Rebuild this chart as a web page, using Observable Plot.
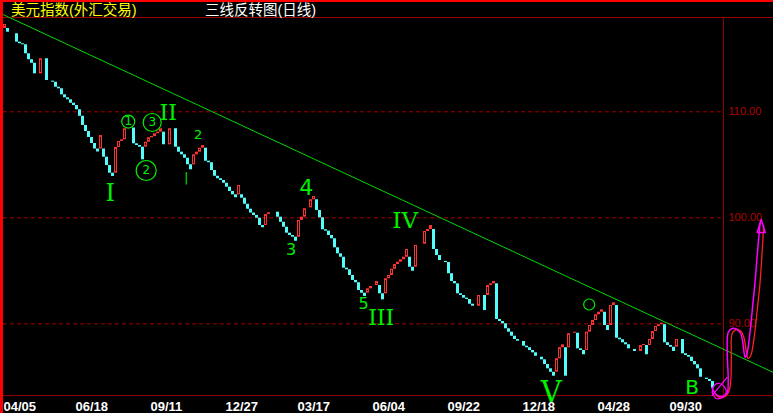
<!DOCTYPE html>
<html><head><meta charset="utf-8">
<script src="https://cdn.jsdelivr.net/npm/d3@7"></script>
<script src="https://cdn.jsdelivr.net/npm/@observablehq/plot@0.6"></script>
<style>
html,body{margin:0;padding:0;background:#000;}
#wrap{position:relative;width:773px;height:413px;overflow:hidden;background:#000;}
#wrap svg{position:absolute;left:0;top:0;overflow:visible;}
.t{position:absolute;top:1px;font-family:"Liberation Sans","Noto Sans CJK SC";font-size:14.5px;line-height:18px;height:18px;white-space:nowrap;}
.bar{position:absolute;background:#ff0000;}
</style></head>
<body><div id="wrap">
<div class="bar" style="left:0;top:0;width:773px;height:2px;"></div>
<div class="bar" style="left:0;top:0;width:3px;height:413px;"></div>
<div class="t" style="left:11px;color:#ffff00;">美元指数(外汇交易)</div>
<div class="t" style="left:205px;color:#ffffff;">三线反转图(日线)</div>
</div>
<script>
// Three-line-break closes (index 0 = starting level)
const closes = [117.86,118.24,117.51,117.45,117.36,116.57,116.42,116.32,115.47,114.91,114.58,113.58,113.49,115.00,115.09,112.95,112.89,112.79,112.32,112.17,111.60,111.32,111.13,110.81,110.59,110.19,109.58,108.71,108.14,107.58,107.01,106.49,106.21,107.76,105.72,104.93,104.21,103.90,106.63,107.20,107.36,108.40,108.47,108.52,106.98,106.82,106.66,105.47,107.13,107.55,107.67,107.93,108.08,108.40,106.89,106.85,108.40,108.49,106.66,106.19,105.94,105.62,105.00,104.53,105.94,106.19,106.57,106.82,105.34,105.19,104.46,103.92,103.68,103.52,103.26,102.89,102.48,102.17,101.89,103.05,101.85,101.28,100.81,100.45,100.22,99.96,99.27,99.06,100.31,100.47,100.53,100.59,100.06,99.58,99.11,98.55,98.33,98.17,97.79,99.75,100.06,100.85,100.94,101.70,102.01,100.69,100.00,98.87,98.74,98.33,98.02,97.17,96.60,96.28,95.25,95.09,94.56,94.09,93.87,93.14,92.89,92.58,93.30,93.52,93.61,93.99,92.83,92.26,94.25,94.56,95.15,95.59,95.81,96.04,96.28,97.01,95.34,94.96,97.39,97.45,97.51,98.71,98.90,99.27,97.01,96.44,95.97,95.88,95.78,94.72,93.99,93.77,92.83,92.67,92.42,92.29,91.85,91.66,91.57,92.67,92.76,91.25,93.61,93.77,93.99,90.41,90.22,90.00,89.53,89.21,88.83,88.52,88.36,88.33,87.89,87.74,87.48,87.26,86.94,86.85,86.60,86.16,85.75,85.43,85.06,86.70,87.74,88.02,85.06,89.06,89.11,89.21,87.64,87.48,87.08,89.21,89.84,90.31,90.85,91.09,91.32,89.84,89.37,91.73,91.98,88.64,88.49,88.21,88.02,87.64,87.58,87.39,87.32,87.95,88.05,87.08,88.52,89.27,89.75,89.91,90.06,88.21,87.95,87.79,87.39,88.52,88.58,87.17,87.01,86.85,86.44,86.13,85.75,84.96,84.87,84.75,84.56,83.93];

const tickBricks = [1,25,50,75,99,124,149,174,199,223];
const tickLabels = ["04/05","06/18","09/11","12/27","03/17","06/04","09/22","12/18","04/28","09/30"];
const yTicks = [110, 100, 90];

const trendK = [-0.6, 257.07];
const trendV = [119.30, 85.42];

const romanK = [36.07, 55.4, 134.4, 126.4, 183.07];
const romanV = [102.29, 109.93, 99.75, 90.55, 83.52];
const romanText = ["I","II","IV","III","V"];
const romanSize = [24, 22, 23, 22, 29];

const noteK = [65.4, 61.4, 96.4, 101.4, 120.5, 230.07];
const noteV = [107.86, 103.71, 97.01, 102.86, 91.9, 84.0];
const noteText = ["2","|","3","4","5","B"];
const noteSize = [13, 12, 16, 22, 16, 20];

const circK = [42.07, 48.07, 50.07, 195.73];
const circV = [109.08, 104.46, 108.99, 91.82];
const circText = ["1","2","3",""];
const circR = [6.5, 10, 9, 5.5];

const magK = [236.73,238.07,240.07,241.73,242.07,241.73,242.07,243.4,245.07,246.4,247.07,247.73,248.4,249.4,250.4,251.07,251.73,252.4,252.73];
const magV = [83.90,83.33,83.14,83.52,84.65,87.48,89.18,89.56,89.46,88.99,87.95,86.82,87.29,89.37,92.20,94.08,96.44,98.61,99.56];
const redK = [237.4,239.07,241.07,242.6,243.1,243.4,244.7,246.4,247.4,248.07,248.73,249.6,250.8,251.9,252.6,253.2,253.6,253.9];
const redV = [83.52,83.05,83.14,83.90,86.54,89.08,89.46,89.27,88.61,87.48,86.73,87.01,88.90,91.73,93.61,95.97,97.86,99.27];
const loopK = [236.73,237.4,239.07,240.73,241.4,240.07,238.07,236.73];
const loopV = [83.52,84.18,84.37,84.08,83.52,83.05,82.96,83.52];
const diagK = [236.73,241.73];
const diagV = [83.24,84.94];
const arrowK = [251.73,253.07,254.4,251.73];
const arrowV = [98.61,99.84,98.61,98.61];

// build bricks (three-line-break: continuation from last close, reversal from last open)
const bricks = [];
let pOpen = closes[0], pClose = closes[0], pDir = 0;
for (let i = 1; i < closes.length; i++) {
  const dir = closes[i] > pClose ? 1 : -1;
  const open = dir === pDir ? pClose : pOpen;
  bricks.push({k: i, open, close: closes[i], up: dir > 0});
  pOpen = open; pClose = closes[i]; pDir = dir;
}
const ups = bricks.filter(d => d.up), downs = bricks.filter(d => !d.up);
const pts = (K, V) => K.map((k, i) => ({k, v: V[i]}));

const xMin = 0.5, xMax = 240.5, xFar = 257.2;
const yMin = 83.236, yMax = 118.896;
const green = "#00f000";

const chart = Plot.plot({
  width: 773, height: 413,
  marginLeft: 3, marginRight: 50, marginTop: 17, marginBottom: 18,
  x: {domain: [xMin, xMax], axis: null},
  y: {domain: [yMin, yMax], axis: null},
  r: {type: "identity"},
  style: {background: "transparent", fontFamily: "Liberation Sans, Arial, sans-serif"},
  marks: [
    Plot.ruleY(yTicks, {stroke: "#a00000", strokeDasharray: "4,3", x1: xMin, x2: xMax}),
    Plot.text(yTicks, {x: xMax, y: d => d, text: d => d.toFixed(2), textAnchor: "start", dx: 5, fill: "#b00000", fontSize: 11}),
    Plot.ruleX([xMax], {y1: yMin, y2: yMax, stroke: "#900000"}),
    Plot.ruleY([yMin], {x1: xMin, x2: xFar, stroke: "#900000"}),
    Plot.ruleY([yMax], {x1: xMin, x2: xFar, stroke: "#a00000"}),
    Plot.text(tickBricks, {x: d => d - 0.5, y: yMin, text: (d, i) => tickLabels[i], textAnchor: "start", dy: 11, fill: "#ffffff", fontSize: 13, fontWeight: "bold"}),
    Plot.line(pts(trendK, trendV), {x: "k", y: "v", stroke: "#00d800", strokeWidth: 1}),
    Plot.rectY(downs, {x1: d => d.k - 0.5, x2: d => d.k + 0.5, y1: "open", y2: "close", fill: "#54fcfc", stroke: "#54fcfc", strokeWidth: 1, inset: 0.5}),
    Plot.rectY(ups, {x1: d => d.k - 0.5, x2: d => d.k + 0.5, y1: "open", y2: "close", fill: "none", stroke: "#ff3232", strokeWidth: 1, inset: 0.5}),
    Plot.text(romanText, {x: (d, i) => romanK[i], y: (d, i) => romanV[i], text: d => d, fontSize: (d, i) => romanSize[i], fill: green, fontFamily: "DejaVu Serif", lineAnchor: "middle"}),
    Plot.text(noteText, {x: (d, i) => noteK[i], y: (d, i) => noteV[i], text: d => d, fontSize: (d, i) => noteSize[i], fill: green, fontFamily: "DejaVu Sans", lineAnchor: "middle"}),
    Plot.dot(circText, {x: (d, i) => circK[i], y: (d, i) => circV[i], r: (d, i) => circR[i], stroke: green, fill: "none", strokeWidth: 1.2}),
    Plot.text(circText, {x: (d, i) => circK[i], y: (d, i) => circV[i], text: d => d, fontSize: 12, fill: green, fontFamily: "DejaVu Sans", lineAnchor: "middle"}),
    Plot.line(pts(redK, redV), {x: "k", y: "v", stroke: "#ff2020", strokeWidth: 1.3, curve: "catmull-rom"}),
    Plot.line(pts(magK, magV), {x: "k", y: "v", stroke: "#ff00ff", strokeWidth: 1.5, curve: "catmull-rom"}),
    Plot.line(pts(loopK, loopV), {x: "k", y: "v", stroke: "#ff00ff", strokeWidth: 1.2, curve: "catmull-rom"}),
    Plot.line(pts(diagK, diagV), {x: "k", y: "v", stroke: "#ff00ff", strokeWidth: 1.2}),
    Plot.line(pts(arrowK, arrowV), {x: "k", y: "v", stroke: "#ff00ff", strokeWidth: 1.5})
  ]
});
const wrap = document.getElementById("wrap");
wrap.insertBefore(chart, wrap.firstChild);
</script>
</body></html>
